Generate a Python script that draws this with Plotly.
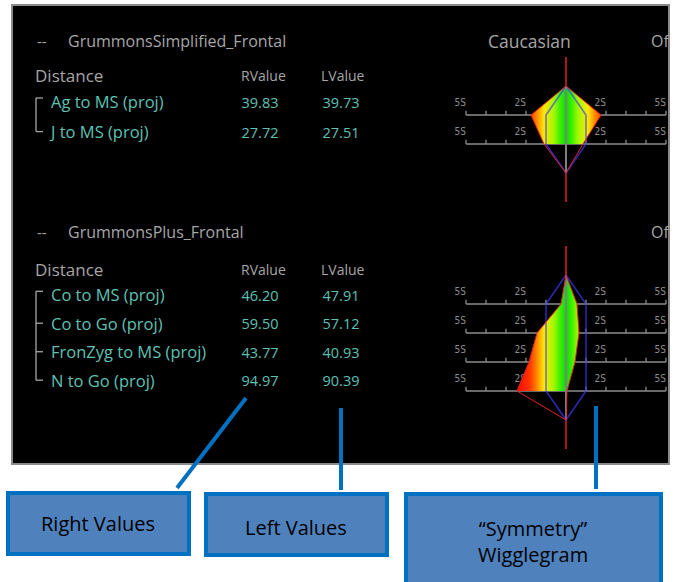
import plotly.graph_objects as go

W, H = 675, 582

# --- data ---
simp_names = ["Ag to MS (proj)", "J to MS (proj)"]
simp_rvalue = [39.83, 27.72]
simp_lvalue = [39.73, 27.51]
simp_dev_left = [-1.75, -1.1]
simp_dev_right = [1.75, 0.85]

plus_names = ["Co to MS (proj)", "Co to Go (proj)", "FronZyg to MS (proj)", "N to Go (proj)"]
plus_rvalue = [46.20, 59.50, 43.77, 94.97]
plus_lvalue = [47.91, 57.12, 40.93, 90.39]
plus_dev_left = [-0.25, -1.45, -1.85, -2.45]
plus_dev_right = [0.55, 0.65, 0.45, 0.05]

norm_band = 1.0
sd_ticks = list(range(-5, 6))
sd_label_vals = [-5, -2, 2, 5]
sd_label_text = ["5S", "2S", "2S", "5S"]

callout_labels = ["Right Values", "Left Values", "\u201cSymmetry\u201d<br>Wigglegram"]

FONT = "Open Sans"
GRAY = "#a6a6a6"
TEAL = "#5fc0b3"
BLUE = "#0070c0"
GRADIENT = [
    [0.0, "#ff0000"], [0.14, "#ff3800"], [0.21, "#ff8800"], [0.28, "#ffe800"], [0.38, "#a0f800"],
    [0.44, "#40f000"], [0.5, "#00e000"], [0.56, "#40f000"], [0.62, "#a0f800"], [0.72, "#ffe800"],
    [0.79, "#ff8800"], [0.86, "#ff3800"], [1.0, "#ff0000"],
]

fig = go.Figure()
n_axes = [0]


def new_axes(xrange, yrange):
    n_axes[0] += 1
    n = n_axes[0]
    sfx = "" if n == 1 else str(n)
    xd = dict(range=xrange, domain=[0, 1], visible=False, fixedrange=True, anchor="y" + sfx)
    yd = dict(range=yrange, domain=[0, 1], visible=False, fixedrange=True, anchor="x" + sfx)
    if n > 1:
        xd["overlaying"] = "x"
        yd["overlaying"] = "y"
    fig.update_layout({"xaxis" + sfx: xd, "yaxis" + sfx: yd})
    return "x" + sfx, "y" + sfx


def row_range(row0, pitch):
    return [(H - row0) / pitch, -row0 / pitch]


def px(x):
    return x / W


def py(y):
    return 1 - y / H


def label(x, y, text, size, color=GRAY, xanchor="left", family=FONT):
    fig.add_annotation(x=px(x), y=py(y), text=text, xanchor=xanchor, yanchor="middle", showarrow=False,
                       font=dict(family=family, size=size, color=color), xref="paper", yref="paper")


def add_section(title, names, rvals, lvals, dev_left, dev_right, title_y, table_row0, table_pitch, wig_row0):
    n = len(names)
    rows = list(range(n))

    # table, x in pixels, y in rows
    xa, ya = new_axes([0, W], row_range(table_row0, table_pitch))
    tree_x = [36, 36, None]
    tree_y = [-0.2, n - 1 - 0.08, None]
    for r in rows:
        off = 0.2 if r == 0 else 0.08
        tree_x += [36, 43, None]
        tree_y += [r - off, r - off, None]
    fig.add_trace(go.Scatter(x=tree_x, y=tree_y, mode="lines", xaxis=xa, yaxis=ya,
                             line=dict(color=GRAY, width=1.3), hoverinfo="skip"))
    fig.add_trace(go.Scatter(x=[51] * n, y=rows, mode="text", text=names, textposition="middle right",
                             textfont=dict(family=FONT, size=16.5, color=TEAL), xaxis=xa, yaxis=ya))
    fig.add_trace(go.Scatter(x=[260] * n, y=rows, mode="text", text=[f"{v:.2f}" for v in rvals],
                             textposition="middle center", textfont=dict(family=FONT, size=14.5, color=TEAL),
                             xaxis=xa, yaxis=ya))
    fig.add_trace(go.Scatter(x=[341] * n, y=rows, mode="text", text=[f"{v:.2f}" for v in lvals],
                             textposition="middle center", textfont=dict(family=FONT, size=14.5, color=TEAL),
                             xaxis=xa, yaxis=ya))

    # headers
    hy = table_row0 - 0.95 * table_pitch
    label(35, title_y, "--", 15)
    label(66, title_y, title, 16)
    label(33, hy, "Distance", 17)
    label(263, hy, "RValue", 14, xanchor="center")
    label(343, hy, "LValue", 14, xanchor="center")
    label(649, title_y, "Of", 16)

    # wigglegram, x in S units (20 px per S around x=566), y in rows
    cx, k, pitch = 566, 20, 29
    xa, ya = new_axes([(0 - cx) / k, (W - cx) / k], row_range(wig_row0, pitch))
    bx, by = [], []
    for r in rows:
        bx += [sd_ticks[0], sd_ticks[-1], None]
        by += [r, r, None]
        for t in sd_ticks:
            bx += [t, t, None]
            by += [r, r - 0.15, None]
    fig.add_trace(go.Scatter(x=bx, y=by, mode="lines", line=dict(color="#8c8c8c", width=1.3),
                             xaxis=xa, yaxis=ya, hoverinfo="skip"))
    fig.add_trace(go.Scatter(x=sd_label_vals * n, y=[r - 0.4 for r in rows for _ in sd_label_vals],
                             text=sd_label_text * n, mode="text", textposition="middle left",
                             textfont=dict(family="DejaVu Sans Condensed", size=10, color="#8c8c8c"),
                             xaxis=xa, yaxis=ya, cliponaxis=False))
    fig.add_trace(go.Scatter(x=[0, 0], y=[-2, n + 1], mode="lines", line=dict(color="#e02020", width=1.5),
                             xaxis=xa, yaxis=ya))
    fig.add_trace(go.Scatter(x=[0] + dev_right + dev_left[::-1], y=[-1] + rows + rows[::-1],
                             mode="lines", fill="toself", line=dict(width=0),
                             fillgradient=dict(type="horizontal", colorscale=GRADIENT, start=-2.5, stop=2.5),
                             xaxis=xa, yaxis=ya))
    fig.add_trace(go.Scatter(x=[0] + [norm_band] * n + [0] + [-norm_band] * n + [0],
                             y=[-1] + rows + [n] + rows[::-1] + [-1], mode="lines",
                             line=dict(color="rgba(60,60,255,0.68)", width=1.6), xaxis=xa, yaxis=ya))
    fig.add_trace(go.Scatter(x=[0, 0], y=[-1, n], mode="lines", line=dict(color="#808080", width=2),
                             xaxis=xa, yaxis=ya))
    fig.add_trace(go.Scatter(x=[0] + dev_right + [0] + dev_left[::-1] + [0],
                             y=[-1] + rows + [n] + rows[::-1] + [-1], mode="lines",
                             line=dict(color="#e82020", width=1), xaxis=xa, yaxis=ya))


# black panel
fig.add_shape(type="rect", xref="paper", yref="paper", x0=px(12), x1=px(669), y0=py(464), y1=py(5),
              fillcolor="black", line=dict(color="#8a8a8a", width=2), layer="below")

add_section("GrummonsSimplified_Frontal", simp_names, simp_rvalue, simp_lvalue,
            simp_dev_left, simp_dev_right, 41, 104, 30, 115)
add_section("GrummonsPlus_Frontal", plus_names, plus_rvalue, plus_lvalue,
            plus_dev_left, plus_dev_right, 232, 297, 28.5, 304)

label(529, 41, "Caucasian", 17.5, xanchor="center")

# callouts
boxes = [(8, 493, 189, 554), (206, 494, 387, 555), (406, 494, 661, 590)]
text_pos = [(98, 523), (296, 527), (533, 541)]
for (x0, y0, x1, y1), (tx, ty), lab in zip(boxes, text_pos, callout_labels):
    fig.add_shape(type="rect", xref="paper", yref="paper", x0=px(x0), x1=px(x1), y0=py(y1), y1=py(y0),
                  fillcolor="#4f81bd", line=dict(color=BLUE, width=4), layer="above")
    label(tx, ty, lab, 20, color="black", xanchor="center")

for (x0, y0, x1, y1) in [(177, 488, 246, 398), (341, 490, 341, 408), (596, 489, 596, 406)]:
    fig.add_shape(type="line", xref="paper", yref="paper", x0=px(x0), x1=px(x1), y0=py(y0), y1=py(y1),
                  line=dict(color=BLUE, width=4), layer="above")

fig.update_layout(
    width=W,
    height=H,
    margin=dict(l=0, r=0, t=0, b=0),
    paper_bgcolor="white",
    plot_bgcolor="rgba(0,0,0,0)",
    showlegend=False,
)

fig.write_html(
    "out.html",
    config={"displayModeBar": False},
    post_script="document.body.style.margin='0';document.body.style.overflow='hidden';",
)
